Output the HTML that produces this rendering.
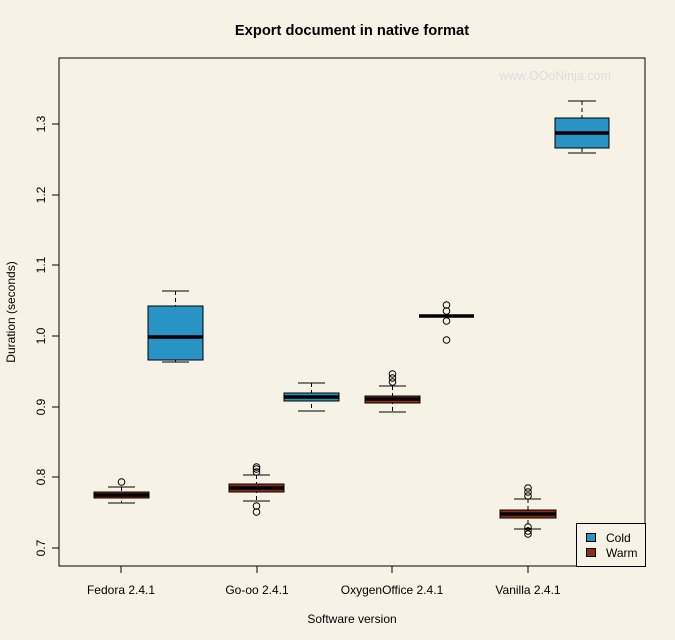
<!DOCTYPE html>
<html><head><style>body{margin:0;background:#f6f3e6}svg{display:block}</style></head><body>
<svg width="675" height="640" xmlns="http://www.w3.org/2000/svg" font-family="Liberation Sans, sans-serif">
<rect width="675" height="640" fill="#f6f3e6"/>
<text x="352" y="35" text-anchor="middle" font-weight="bold" font-size="14.7">Export document in native format</text>
<text x="555" y="80" text-anchor="middle" font-size="12.5" fill="#dcdcdc">www.OOoNinja.com</text>
<rect x="59" y="58" width="586" height="508" fill="none" stroke="#000"/>
<g stroke="#000" fill="none">
<line x1="59" y1="124" x2="59" y2="548"/>
<line x1="52" y1="124" x2="59" y2="124"/><line x1="52" y1="195" x2="59" y2="195"/><line x1="52" y1="265" x2="59" y2="265"/><line x1="52" y1="336" x2="59" y2="336"/><line x1="52" y1="407" x2="59" y2="407"/><line x1="52" y1="477" x2="59" y2="477"/><line x1="52" y1="548" x2="59" y2="548"/>
<line x1="121" y1="566" x2="121" y2="573"/><line x1="257" y1="566" x2="257" y2="573"/><line x1="392" y1="566" x2="392" y2="573"/><line x1="528" y1="566" x2="528" y2="573"/>
</g>
<g font-size="12" text-anchor="middle">
<g transform="rotate(-90)">
<text x="-124" y="45">1.3</text><text x="-195" y="45">1.2</text><text x="-265" y="45">1.1</text><text x="-336" y="45">1.0</text><text x="-407" y="45">0.9</text><text x="-477" y="45">0.8</text><text x="-548" y="45">0.7</text>
<text x="-312" y="15">Duration (seconds)</text>
</g>
<text x="121" y="594">Fedora 2.4.1</text><text x="257" y="594">Go-oo 2.4.1</text><text x="392" y="594">OxygenOffice 2.4.1</text><text x="528" y="594">Vanilla 2.4.1</text>
<text x="352" y="623">Software version</text>
</g>
<g stroke="#000" stroke-width="1">
<g stroke-dasharray="4,3">
<line x1="121.5" y1="487" x2="121.5" y2="503"/><line x1="175.5" y1="291" x2="175.5" y2="306"/><line x1="175.5" y1="360" x2="175.5" y2="362"/>
<line x1="256.5" y1="475" x2="256.5" y2="501"/><line x1="311.5" y1="383" x2="311.5" y2="411"/>
<line x1="392.5" y1="386" x2="392.5" y2="412"/><line x1="528" y1="499" x2="528" y2="529"/>
<line x1="582" y1="101" x2="582" y2="118"/><line x1="582" y1="148" x2="582" y2="153"/>
</g>
<line x1="108" y1="487" x2="135" y2="487"/><line x1="108" y1="503" x2="135" y2="503"/>
<line x1="162" y1="291" x2="189" y2="291"/><line x1="162" y1="362" x2="189" y2="362"/>
<line x1="243" y1="475" x2="270" y2="475"/><line x1="243" y1="501" x2="270" y2="501"/>
<line x1="298" y1="383" x2="325" y2="383"/><line x1="298" y1="411" x2="325" y2="411"/>
<line x1="379" y1="386" x2="406" y2="386"/><line x1="379" y1="412" x2="406" y2="412"/>
<line x1="514" y1="499" x2="541" y2="499"/><line x1="514" y1="529" x2="541" y2="529"/>
<line x1="568" y1="101" x2="596" y2="101"/><line x1="568" y1="153" x2="596" y2="153"/>
<rect x="94" y="492" width="55" height="6" fill="#8e2e17"/>
<rect x="148" y="306" width="55" height="54" fill="#2893c4"/>
<rect x="229" y="484" width="55" height="8" fill="#8e2e17"/>
<rect x="284" y="393" width="55" height="8" fill="#2893c4"/>
<rect x="365" y="396" width="55" height="7" fill="#8e2e17"/>
<rect x="500" y="510" width="56" height="8" fill="#8e2e17"/>
<rect x="555" y="118" width="54" height="30" fill="#2893c4"/>
</g>
<g stroke="#000" stroke-width="3.5">
<line x1="94" y1="495" x2="149" y2="495"/><line x1="148" y1="337" x2="203" y2="337"/>
<line x1="229" y1="488" x2="284" y2="488"/><line x1="284" y1="397" x2="339" y2="397"/>
<line x1="365" y1="399" x2="420" y2="399"/><line x1="419" y1="316" x2="474" y2="316"/>
<line x1="500" y1="514" x2="556" y2="514"/><line x1="555" y1="133" x2="609" y2="133"/>
</g>
<g stroke="#000" fill="none" stroke-width="1">
<circle cx="121.5" cy="482" r="3.3"/>
<circle cx="256.5" cy="467" r="3.3"/><circle cx="256.5" cy="469" r="3.3"/><circle cx="256.5" cy="472" r="3.3"/><circle cx="256.5" cy="506" r="3.3"/><circle cx="256.5" cy="512" r="3.3"/>
<circle cx="392.5" cy="374" r="3.3"/><circle cx="392.5" cy="378" r="3.3"/><circle cx="392.5" cy="382" r="3.3"/>
<circle cx="446.5" cy="305" r="3.3"/><circle cx="446.5" cy="311" r="3.3"/><circle cx="446.5" cy="321" r="3.3"/><circle cx="446.5" cy="340" r="3.3"/>
<circle cx="528" cy="488" r="3.3"/><circle cx="528" cy="492" r="3.3"/><circle cx="528" cy="496" r="3.3"/><circle cx="528" cy="527" r="3.3"/><circle cx="528" cy="531" r="3.3"/><circle cx="528" cy="534" r="3.3"/>
</g>
<rect x="576.5" y="523.5" width="69" height="43" fill="#f6f3e6" stroke="#000"/>
<rect x="586.5" y="533.5" width="9" height="8" fill="#2893c4" stroke="#000"/>
<rect x="586.5" y="548.5" width="9" height="8" fill="#8e2e17" stroke="#000"/>
<text x="606" y="542" font-size="12">Cold</text>
<text x="606" y="557" font-size="12">Warm</text>
</svg>
</body></html>
